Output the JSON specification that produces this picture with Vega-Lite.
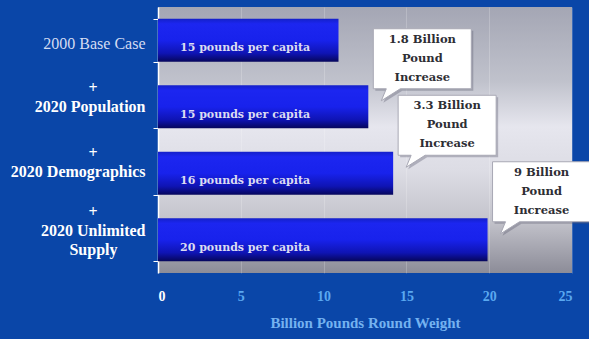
{
  "$schema": "https://vega.github.io/schema/vega-lite/v6.json",
  "width": 414,
  "height": 266,
  "autosize": {"type": "none"},
  "padding": {"left": 158, "top": 7, "right": 17, "bottom": 66},
  "background": "#0a46a8",
  "config": {
    "font": "Liberation Serif",
    "view": {
      "stroke": null,
      "fill": {
        "gradient": "linear", "x1": 0, "y1": 0, "x2": 0, "y2": 1,
        "stops": [
          {"offset": 0, "color": "#a4a6b4"},
          {"offset": 0.28, "color": "#c0c2cc"},
          {"offset": 0.45, "color": "#e6e6ee"},
          {"offset": 0.62, "color": "#dcdce4"},
          {"offset": 0.8, "color": "#c4c4cc"},
          {"offset": 1, "color": "#8c8c98"}
        ]
      }
    }
  },
  "data": {
    "values": [
      {"scenario": "2000 Base Case", "billion_lbs": 10.9, "per_capita": "15 pounds per capita", "note": null},
      {"scenario": "2020 Population", "billion_lbs": 12.7, "per_capita": "15 pounds per capita", "note": "1.8 Billion\nPound\nIncrease"},
      {"scenario": "2020 Demographics", "billion_lbs": 14.2, "per_capita": "16 pounds per capita", "note": "3.3 Billion\nPound\nIncrease"},
      {"scenario": "2020 Unlimited Supply", "billion_lbs": 19.9, "per_capita": "20 pounds per capita", "note": "9 Billion\nPound\nIncrease"}
    ]
  },
  "encoding": {
    "y": {
      "field": "scenario", "type": "nominal", "sort": null,
      "scale": {"paddingInner": 0.35, "paddingOuter": 0.175},
      "axis": {
        "title": null,
        "domainColor": "#ffffff",
        "domainWidth": 1.5,
        "ticks": true,
        "tickBand": "extent",
        "tickColor": "#ffffff",
        "tickSize": 5,
        "labelPadding": 8,
        "labelFont": "Liberation Serif",
        "labelFontSize": 16,
        "labelLineHeight": 19,
        "labelLimit": 300,
        "labelBaseline": "middle",
        "labelColor": {"condition": {"test": "datum.value == '2000 Base Case'", "value": "#d4dcf2"}, "value": "#ffffff"},
        "labelFontWeight": {"condition": {"test": "datum.value == '2000 Base Case'", "value": "normal"}, "value": "bold"},
        "labelOffset": {
          "condition": [
            {"test": "datum.value == '2000 Base Case'", "value": 3},
            {"test": "datum.value == '2020 Population'", "value": -19},
            {"test": "datum.value == '2020 Demographics'", "value": -21}
          ],
          "value": -28
        },
        "labelExpr": "!datum.value ? '' : (datum.value == '2000 Base Case' ? datum.value : (datum.value == '2020 Unlimited Supply' ? ['+\u00a0\u00a0\u00a0\u00a0\u00a0\u00a0\u00a0\u00a0\u00a0\u00a0\u00a0\u00a0\u200b', '2020 Unlimited', 'Supply\u00a0\u00a0\u00a0\u00a0\u00a0\u00a0\u00a0\u200b'] : ['+\u00a0\u00a0\u00a0\u00a0\u00a0\u00a0\u00a0\u00a0\u00a0\u00a0\u00a0\u00a0\u200b', datum.value]))"
      }
    },
    "x": {
      "field": "billion_lbs", "type": "quantitative",
      "scale": {"domain": [0, 25], "nice": false},
      "axis": {
        "title": "Billion Pounds Round Weight",
        "values": [0, 5, 10, 15, 20, 25],
        "domain": false,
        "ticks": false,
        "grid": true,
        "gridColor": "#ffffff",
        "gridOpacity": 0.2,
        "labelFont": "Liberation Serif",
        "labelFontSize": 14,
        "labelFontWeight": "bold",
        "labelPadding": 16,
        "labelColor": {"condition": {"test": "datum.value == 0", "value": "#ffffff"}, "value": "#5aa8f0"},
        "titleFont": "Liberation Serif",
        "titleFontSize": 15,
        "titleFontWeight": "bold",
        "titleColor": "#74b2f0",
        "titlePadding": 12
      }
    }
  },
  "layer": [
    {
      "mark": {
        "type": "bar",
        "fill": {
          "gradient": "linear", "x1": 0, "y1": 0, "x2": 0, "y2": 1,
          "stops": [
            {"offset": 0, "color": "#1420c8"},
            {"offset": 0.12, "color": "#1c26f0"},
            {"offset": 0.5, "color": "#1822ec"},
            {"offset": 0.8, "color": "#0f14b4"},
            {"offset": 1, "color": "#06065a"}
          ]
        }
      }
    },
    {
      "mark": {"type": "text", "align": "left", "baseline": "middle", "dx": 22, "dy": 8, "font": "DejaVu Serif", "fontSize": 11, "fontWeight": "bold", "color": "#dcdcf2"},
      "encoding": {
        "x": {"datum": 0, "type": "quantitative"},
        "text": {"field": "per_capita"}
      }
    },
    {
      "transform": [{"filter": "datum.note != null"}],
      "mark": {"type": "point", "shape": "M5,-78H103V-18H32L13,-6L18,-18H5Z", "size": 4, "filled": true, "fill": "#55566a", "opacity": 0.35, "xOffset": 2, "yOffset": 2}
    },
    {
      "transform": [{"filter": "datum.note != null"}],
      "mark": {"type": "point", "shape": "M5,-78H103V-18H32L13,-6L18,-18H5Z", "size": 4, "filled": true, "fill": "#ffffff", "stroke": "#a8a8b4", "strokeWidth": 1, "opacity": 1}
    },
    {
      "transform": [{"filter": "datum.note != null"}],
      "mark": {"type": "text", "align": "center", "baseline": "middle", "dx": 54, "dy": -67, "lineBreak": "\n", "lineHeight": 19, "font": "DejaVu Serif", "fontSize": 11.5, "fontWeight": "bold", "color": "#2e2e34"},
      "encoding": {
        "text": {"field": "note"}
      }
    }
  ]
}
